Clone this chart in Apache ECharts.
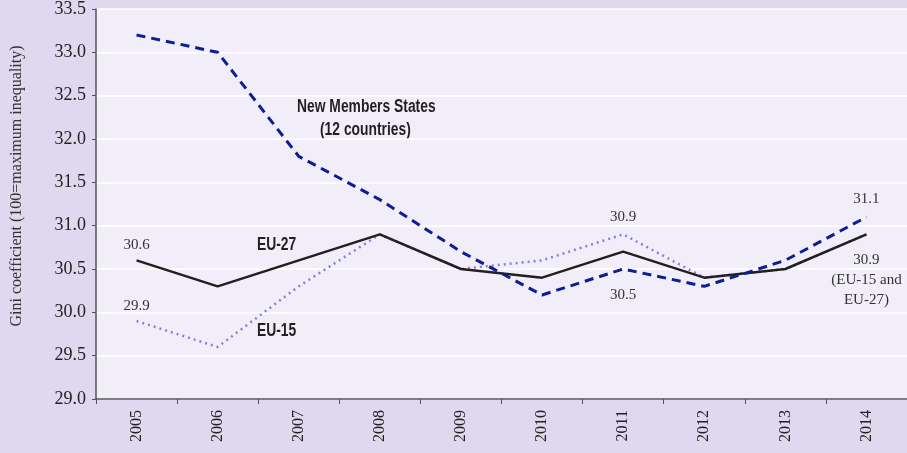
<!DOCTYPE html>
<html>
<head>
<meta charset="utf-8">
<script src="https://cdn.jsdelivr.net/npm/echarts@6/dist/echarts.min.js"></script>
<style>
  html, body { margin: 0; padding: 0; background: #dfd8ee; }
  #chart { width: 907px; height: 453px; }
</style>
</head>
<body>
<div id="chart"></div>
<script>
// 年份
var years = ['2005', '2006', '2007', '2008', '2009', '2010', '2011', '2012', '2013', '2014'];
// 三条线的数值
var nms = [33.2, 33.0, 31.8, 31.3, 30.7, 30.2, 30.5, 30.3, 30.6, 31.1];
var eu27 = [30.6, 30.3, 30.6, 30.9, 30.5, 30.4, 30.7, 30.4, 30.5, 30.9];
var eu15 = [29.9, 29.6, 30.3, 30.9, 30.5, 30.6, 30.9, 30.4, 30.5, 30.9];

var serif = '"Liberation Serif", "DejaVu Serif", serif';
var sans = '"Liberation Sans", Arial, sans-serif';

// 带标签的数据点
function withLabels(arr, labels) {
    return arr.map(function (v, i) {
        if (!labels[i]) return v;
        return { value: v, label: Object.assign({ show: true, fontFamily: serif, fontSize: 15, color: '#333', lineHeight: 17 }, labels[i]) };
    });
}

// 压窄的粗体文字（原图用的是窄体字）
function condText(str, x, y) {
    return { type: 'text', x: x, y: y, scaleX: 0.77, style: { text: str, font: 'bold 18px ' + sans, fill: '#231f20', verticalAlign: 'top' } };
}

var chart = echarts.init(document.getElementById('chart'));
var hidden = { color: 'rgba(0,0,0,0)' };
var option = {
    backgroundColor: '#dfd8ee',
    animation: false,
    grid: { left: 96, right: 0, top: 9, bottom: 54, show: true, backgroundColor: '#f2eef9', borderWidth: 0 },
    xAxis: {
        type: 'category',
        data: years,
        boundaryGap: true,
        axisLine: { lineStyle: { color: '#555', width: 1.5 } },
        axisTick: { show: true, length: 5, lineStyle: { color: '#555' } },
        axisLabel: { rotate: 90, fontFamily: serif, fontSize: 16, color: '#222', margin: 11 }
    },
    yAxis: {
        type: 'value',
        min: 29.0,
        max: 33.5,
        interval: 0.5,
        axisLine: { show: true, lineStyle: { color: '#555', width: 1.5 } },
        axisTick: { show: true, length: 4, lineStyle: { color: '#555' } },
        axisLabel: { fontFamily: serif, fontSize: 18, color: '#222', margin: 10, formatter: function (v) { return v.toFixed(1); } },
        splitLine: { lineStyle: { color: '#ffffff', width: 1.5 } }
    },
    series: [
        {
            name: 'EU-15',
            type: 'line',
            data: withLabels(eu15, { 0: { position: 'top', distance: 6 }, 6: { position: 'top', distance: 8 } }),
            symbol: 'circle', symbolSize: 1, showSymbol: true, itemStyle: hidden,
            lineStyle: { color: '#8a7fd6', width: 2.5, type: [2, 4] },
            z: 2
        },
        {
            name: 'EU-27',
            type: 'line',
            data: withLabels(eu27, { 0: { position: 'top', distance: 6 }, 9: { position: 'bottom', distance: 15, align: 'center', lineHeight: 20, formatter: '30.9\n(EU-15 and\nEU-27)' } }),
            symbol: 'circle', symbolSize: 1, showSymbol: true, itemStyle: hidden,
            lineStyle: { color: '#231f20', width: 2.5 },
            z: 3
        },
        {
            name: 'New Members States',
            type: 'line',
            data: withLabels(nms, { 6: { position: 'bottom', distance: 17 }, 9: { position: 'top', distance: 9 } }),
            symbol: 'circle', symbolSize: 1, showSymbol: true, itemStyle: hidden,
            lineStyle: { color: '#0a1f96', width: 3, type: [9, 6] },
            z: 4
        }
    ],
    graphic: [
        {
            type: 'text', x: 17, y: 186, rotation: Math.PI / 2,
            style: { text: 'Gini coefficient (100=maximum inequality)', font: '16px ' + serif, fill: '#333', align: 'center', verticalAlign: 'middle' }
        },
        condText('New Members States', 297, 98),
        condText('(12 countries)', 320, 121),
        condText('EU-27', 257, 236),
        condText('EU-15', 257, 322)
    ]
};
chart.setOption(option);
</script>
</body>
</html>
